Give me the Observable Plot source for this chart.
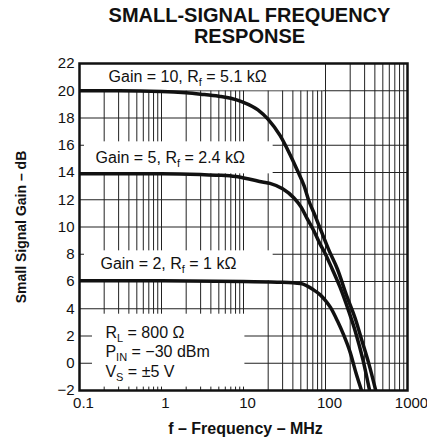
<!DOCTYPE html>
<html><head><meta charset="utf-8">
<script src="https://cdn.jsdelivr.net/npm/d3@7"></script>
<script src="https://cdn.jsdelivr.net/npm/@observablehq/plot@0.6"></script>
<style>html,body{margin:0;padding:0;background:#fff;} svg{overflow:visible;display:block}</style>
</head><body><div id="chart"></div>
<script>
// ---- data ----
const xTicks = [0.1, 1, 10, 100, 1000];
const xTickLabels = ["0.1", "1", "10", "100", "1000"];
const yTicks = [-2, 0, 2, 4, 6, 8, 10, 12, 14, 16, 18, 20, 22];
const yTickLabels = ["\u22122", "0", "2", "4", "6", "8", "10", "12", "14", "16", "18", "20", "22"];
const decades = [0.1, 1, 10, 100];
const multiples = [1, 2, 3, 4, 5, 6, 7, 8, 9];

const gain10Freq = [0.1, 0.3, 1, 2, 3, 5, 7, 10, 15, 20, 28, 37, 45, 55, 62, 75, 90, 110, 140, 180, 230, 280, 340, 410];
const gain10Db   = [20.0, 20.0, 19.95, 19.85, 19.75, 19.6, 19.45, 19.15, 18.6, 17.9, 16.7, 15.3, 14.2, 13.0, 12.0, 10.8, 9.6, 8.3, 6.9, 5.0, 3.3, 1.6, -0.1, -2.0];
const gain5Freq  = [0.1, 1, 3, 5, 8, 12, 17, 21, 30, 41, 50, 60, 71, 85, 100, 115, 150, 190, 232, 285, 345];
const gain5Db    = [13.9, 13.9, 13.85, 13.8, 13.7, 13.5, 13.3, 13.2, 12.8, 12.15, 11.5, 10.6, 9.8, 8.8, 8.0, 7.2, 5.6, 3.9, 2.3, 0.3, -2.0];
const gain2Freq  = [0.1, 1, 10, 30, 50, 71, 87, 100, 115, 140, 166, 200, 235, 275];
const gain2Db    = [6.05, 6.05, 6.0, 5.95, 5.85, 5.4, 5.0, 4.6, 4.1, 3.1, 2.1, 0.8, -0.7, -2.0];

const seriesNames = ["Gain = 10", "Gain = 5", "Gain = 2"];
const labelTexts = ["Gain = 10, R_{f} = 5.1 k\u03A9", "Gain = 5, R_{f} = 2.4 k\u03A9", "Gain = 2, R_{f} = 1 k\u03A9"];
const conditionTexts = ["R_{L} = 800 \u03A9", "P_{IN} = \u221230 dBm", "V_{S} = \u00B15 V"];
const titleText = "SMALL-SIGNAL FREQUENCY\nRESPONSE";
const xTitle = "f \u2013 Frequency \u2013 MHz";
const yTitle = "Small Signal Gain \u2013 dB";

// ---- derived tables ----
const xGrid = decades.flatMap(d => multiples.map(m => +(d * m).toPrecision(3))).concat([1000]);
const rows = [
  ...gain10Freq.map((f, i) => ({series: seriesNames[0], f, db: gain10Db[i]})),
  ...gain5Freq.map((f, i) => ({series: seriesNames[1], f, db: gain5Db[i]})),
  ...gain2Freq.map((f, i) => ({series: seriesNames[2], f, db: gain2Db[i]}))
];

// label boxes (white masks over the grid) and text placement, in data coordinates
const boxes = [
  {x1: 0.1,   x2: 95,   y1: 20,    y2: 22},
  {x1: 0.115, x2: 23,   y1: 13.9,  y2: 16.25},
  {x1: 0.115, x2: 23,   y1: 6.05,  y2: 8.25},
  {x1: 0.144, x2: 10.4, y1: -1.75, y2: 3.6}
];
const labelPos = [{x: 0.226, y: 21.0}, {x: 0.157, y: 15.1}, {x: 0.18, y: 7.3}];
const condPos = [{x: 0.207, y: 2.2}, {x: 0.207, y: 0.8}, {x: 0.207, y: -0.6}];
const annotations = [
  ...labelTexts.map((t, i) => ({text: t, ...labelPos[i]})),
  ...conditionTexts.map((t, i) => ({text: t, ...condPos[i]}))
];

const plot = Plot.plot({
  width: 427,
  height: 446,
  marginLeft: 79,
  marginRight: 20,
  marginTop: 63,
  marginBottom: 56,
  style: {fontFamily: "'Liberation Sans', Arial, Helvetica, sans-serif", fontSize: "15px", color: "#111", background: "#fff", overflow: "visible"},
  x: {type: "log", domain: [0.1, 1000], axis: null},
  y: {domain: [-2, 22], axis: null},
  marks: [
    Plot.ruleX(xGrid, {x: d => d, stroke: "#222", strokeWidth: 1}),
    Plot.ruleY(yTicks, {y: d => d, stroke: "#222", strokeWidth: 1.2}),
    Plot.rect(boxes, {x1: "x1", x2: "x2", y1: "y1", y2: "y2", fill: "white"}),
    Plot.frame({stroke: "#111", strokeWidth: 2.5}),
    Plot.line(rows, {x: "f", y: "db", z: "series", stroke: "#111", strokeWidth: 3.5, curve: "monotone-x", clip: true}),
    Plot.text(annotations, {x: "x", y: "y", text: "text", textAnchor: "start", fontSize: 16, fill: "#111"}),
    // tick labels
    Plot.text(xTicks, {x: d => d, text: (d, i) => xTickLabels[i], frameAnchor: "bottom", dy: 17, dx: 4, fontSize: 15, fill: "#111"}),
    Plot.text(yTicks, {y: d => d, text: (d, i) => yTickLabels[i], frameAnchor: "left", dx: -5, textAnchor: "end", fontSize: 15, fill: "#111"}),
    // titles
    Plot.text([titleText], {text: d => d, frameAnchor: "top", textAnchor: "middle", lineAnchor: "top", dy: -56, dx: 6, fontSize: 20, fontWeight: "bold", lineHeight: 1.05, fill: "#111"}),
    Plot.text([xTitle], {text: d => d, frameAnchor: "bottom", textAnchor: "middle", dy: 43, dx: 2, fontSize: 16, fontWeight: "bold", fill: "#111"}),
    Plot.text([yTitle], {text: d => d, frameAnchor: "left", textAnchor: "middle", dx: -58, rotate: -90, fontSize: 14, fontWeight: "bold", fill: "#111"})
  ]
});

// turn _{...} markers into subscript tspans
d3.select(plot).selectAll("text").each(function() {
  const t = this.textContent;
  if (!t.includes("_{")) return;
  const parts = t.split(/(_\{[^}]*\})/).filter(p => p);
  this.textContent = "";
  let shifted = false;
  for (const p of parts) {
    const sub = p.startsWith("_{");
    const ts = d3.select(this).append("tspan").text(sub ? p.slice(2, -1) : p);
    if (sub) { ts.attr("dy", 4).attr("font-size", "11px"); shifted = true; }
    else if (shifted) { ts.attr("dy", -4); shifted = false; }
  }
});

document.getElementById("chart").appendChild(plot);
</script>
</body></html>
